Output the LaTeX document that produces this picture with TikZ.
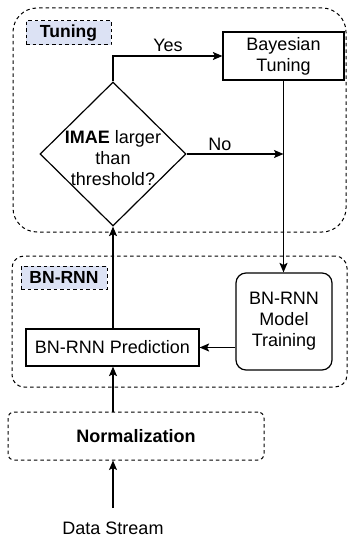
\documentclass[tikz,border=0pt]{standalone}
\usepackage{fontspec}
\setmainfont{Liberation Sans}
\usetikzlibrary{arrows.meta,shapes.geometric,calc}
\definecolor{lblfill}{RGB}{220,226,244}
\begin{document}
\begin{tikzpicture}[x=1pt,y=-1pt,
  font=\fontsize{18}{21}\selectfont,
  line width=1.2pt,
  dsh/.style={dash pattern=on 3.5pt off 3pt, line width=1pt},
  container/.style={draw, dsh, rounded corners=#1, inner sep=0pt},
  lbl/.style={draw, dsh, fill=lblfill, inner sep=0pt, font=\fontsize{17.5}{20}\selectfont\bfseries},
  box/.style={draw, inner sep=0pt, align=center},
  arr/.style={-{Stealth[length=9.5pt,width=8pt,inset=2pt]}},
  txt/.style={inner sep=0pt, align=center}
]
\useasboundingbox (0,0) rectangle (348,537);
% containers
\node[container=24pt, minimum width=333pt, minimum height=224pt] (tunec) at (179.5,120) {};
\node[container=12pt, minimum width=335pt, minimum height=131pt] (bnc) at (179.5,321.5) {};
\node[container=6pt, minimum width=256pt, minimum height=48pt, font=\fontsize{18}{21}\selectfont\bfseries] (norm) at (136,436) {Normalization};
% labels
\node[lbl, minimum width=85pt, minimum height=24pt] (tunelbl) at (68.5,33) {Tuning};
\node[lbl, minimum width=86pt, minimum height=23pt] (bnlbl) at (64,277.5) {BN-RNN};
% process nodes
\node[box, minimum width=121pt, minimum height=48pt] (bayes) at (283.5,56) {Bayesian\\Tuning};
\node[draw, diamond, aspect=1, inner sep=0pt, minimum width=146pt, minimum height=144pt] (dec) at (113,154) {};
\node[txt] (dectext) at (113,158) {\textbf{IMAE} larger\\than\\threshold?};
\node[box, rounded corners=10pt, minimum width=96pt, minimum height=97pt] (train) at (284,321.5) {BN-RNN\\Model\\Training};
\node[box, minimum width=173pt, minimum height=37pt] (pred) at (112.5,347.5) {BN-RNN Prediction};
\node[txt] (ds) at (113,528) {Data Stream};
\coordinate (noend) at (283.5,154);
% edge labels
\node[txt] (yes) at (168,45) {Yes};
\node[txt] (no) at (220,144) {No};
% connectors
\draw[arr] (dec.north) |- (bayes.west);
\draw[arr] (dec.east) -- (noend);
\draw[arr] (bayes.south) -- (bayes.south |- train.north);
\draw[arr] (train.west |- pred.east) -- (pred.east);
\draw[arr] (pred.north -| dec.south) -- (dec.south);
\draw[arr] (norm.north -| dec.south) -- (pred.south -| dec.south);
\draw[arr, shorten <=13pt] (ds.north) -- (norm.south -| ds.north);
\end{tikzpicture}
\end{document}
